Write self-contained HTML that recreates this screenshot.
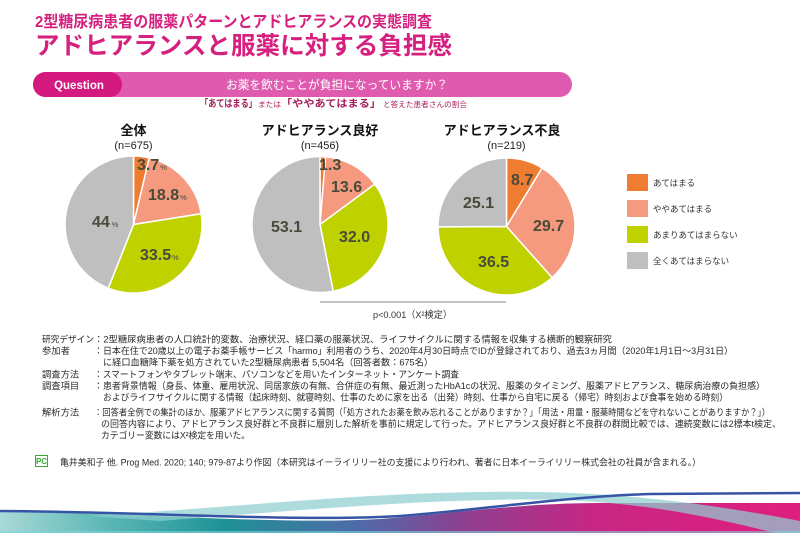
<!DOCTYPE html>
<html lang="ja">
<head>
<meta charset="utf-8">
<style>
  html,body{margin:0;padding:0;background:#fff;}
  svg{display:block;}
  text{font-family:"Liberation Sans","Noto Sans CJK JP",sans-serif;}
</style>
</head>
<body>
<svg width="800" height="533" viewBox="0 0 800 533" xmlns="http://www.w3.org/2000/svg">
  <defs>
    <linearGradient id="band" x1="0" y1="0" x2="1" y2="0">
      <stop offset="0" stop-color="#A9D9D7"/>
      <stop offset="0.13" stop-color="#5DB8B6"/>
      <stop offset="0.28" stop-color="#1E9296"/>
      <stop offset="0.45" stop-color="#4F6AA8"/>
      <stop offset="0.58" stop-color="#8E3F90"/>
      <stop offset="0.75" stop-color="#C92683"/>
      <stop offset="1" stop-color="#DF1E7F"/>
    </linearGradient>
  </defs>

  <!-- Titles -->
  <text x="35" y="27" font-size="16" font-weight="bold" fill="#D6207F" textLength="397" lengthAdjust="spacingAndGlyphs">2型糖尿病患者の服薬パターンとアドヒアランスの実態調査</text>
  <text x="35" y="54" font-size="24.5" font-weight="bold" fill="#D6207F" textLength="417" lengthAdjust="spacingAndGlyphs">アドヒアランスと服薬に対する負担感</text>

  <!-- Question bar -->
  <rect x="33" y="72" width="539" height="25" rx="12.5" fill="#DE5BAF"/>
  <rect x="33" y="72" width="89" height="25" rx="12.5" fill="#D4197F"/>
  <text x="79" y="89" font-size="11.5" font-weight="bold" fill="#fff" text-anchor="middle">Question</text>
  <text x="226" y="89" font-size="12" fill="#fff" textLength="222" lengthAdjust="spacingAndGlyphs">お薬を飲むことが負担になっていますか？</text>

  <!-- Sub caption -->
  <text x="200" y="107" font-size="10" font-weight="bold" fill="#A51E5A" textLength="57" lengthAdjust="spacingAndGlyphs">「あてはまる」</text>
  <text x="258" y="107" font-size="7.5" fill="#A51E5A" textLength="23" lengthAdjust="spacingAndGlyphs">または</text>
  <text x="281" y="107" font-size="10" font-weight="bold" fill="#A51E5A" textLength="100" lengthAdjust="spacingAndGlyphs">「ややあてはまる」</text>
  <text x="383" y="107" font-size="7.5" fill="#A51E5A" textLength="84" lengthAdjust="spacingAndGlyphs">と答えた患者さんの割合</text>

  <!-- Pie titles -->
  <text x="133.5" y="135" font-size="13" font-weight="bold" fill="#111" text-anchor="middle">全体</text>
  <text x="133.5" y="149" font-size="11" fill="#222" text-anchor="middle">(n=675)</text>
  <text x="320" y="135" font-size="13" font-weight="bold" fill="#111" text-anchor="middle">アドヒアランス良好</text>
  <text x="320" y="149" font-size="11" fill="#222" text-anchor="middle">(n=456)</text>
  <text x="502" y="135" font-size="13" font-weight="bold" fill="#111" text-anchor="middle">アドヒアランス不良</text>
  <text x="554" y="129" font-size="6" fill="#888">※</text>
  <text x="506.5" y="149" font-size="11" fill="#222" text-anchor="middle">(n=219)</text>

  <!-- Pie 1 -->
  <g stroke="#fff" stroke-width="1.5" stroke-linejoin="round">
    <path d="M133.5,224.5 L133.5,156 A68.5,68.5 0 0 1 149.28,157.84 Z" fill="#EE7D31"/>
    <path d="M133.5,224.5 L149.28,157.84 A68.5,68.5 0 0 1 201.16,213.78 Z" fill="#F59A7E"/>
    <path d="M133.5,224.5 L201.16,213.78 A68.5,68.5 0 0 1 108.28,288.19 Z" fill="#BFD200"/>
    <path d="M133.5,224.5 L108.28,288.19 A68.5,68.5 0 0 1 133.5,156 Z" fill="#BFBFBF"/>
  </g>
  <!-- Pie 2 -->
  <g stroke="#fff" stroke-width="1.5" stroke-linejoin="round">
    <path d="M320,224.5 L320,156.5 A68,68 0 0 1 325.55,156.72 Z" fill="#EE7D31"/>
    <path d="M320,224.5 L325.55,156.72 A68,68 0 0 1 374.75,184.18 Z" fill="#F59A7E"/>
    <path d="M320,224.5 L374.75,184.18 A68,68 0 0 1 333.16,291.21 Z" fill="#BFD200"/>
    <path d="M320,224.5 L333.16,291.21 A68,68 0 1 1 320,156.5 Z" fill="#BFBFBF"/>
  </g>
  <!-- Pie 3 -->
  <g stroke="#fff" stroke-width="1.5" stroke-linejoin="round">
    <path d="M506.5,226.5 L506.5,158 A68.5,68.5 0 0 1 542.11,167.98 Z" fill="#EE7D31"/>
    <path d="M506.5,226.5 L542.11,167.98 A68.5,68.5 0 0 1 552.11,277.61 Z" fill="#F59A7E"/>
    <path d="M506.5,226.5 L552.11,277.61 A68.5,68.5 0 0 1 438.0,226.93 Z" fill="#BFD200"/>
    <path d="M506.5,226.5 L438.0,226.93 A68.5,68.5 0 0 1 506.5,158 Z" fill="#BFBFBF"/>
  </g>

  <!-- Pie labels -->
  <g font-size="16" font-weight="bold" fill="#4A4A3A">
    <text x="137" y="170">3.7<tspan font-size="7.5" font-weight="normal" dx="1">%</tspan></text>
    <text x="148" y="200">18.8<tspan font-size="7.5" font-weight="normal" dx="1">%</tspan></text>
    <text x="92" y="227">44<tspan font-size="7.5" font-weight="normal" dx="2">%</tspan></text>
    <text x="140" y="260">33.5<tspan font-size="7.5" font-weight="normal" dx="1">%</tspan></text>

    <text x="319" y="170">1.3</text>
    <text x="331" y="192">13.6</text>
    <text x="271" y="232">53.1</text>
    <text x="339" y="242">32.0</text>

    <text x="511" y="185">8.7</text>
    <text x="463" y="208">25.1</text>
    <text x="533" y="231">29.7</text>
    <text x="478" y="267">36.5</text>
  </g>

  <!-- Legend -->
  <rect x="627" y="174" width="21" height="17" fill="#EE7D31"/>
  <rect x="627" y="200" width="21" height="17" fill="#F59A7E"/>
  <rect x="627" y="226" width="21" height="17" fill="#BFD200"/>
  <rect x="627" y="252" width="21" height="17" fill="#BFBFBF"/>
  <g font-size="8.5" fill="#333">
    <text x="653" y="186">あてはまる</text>
    <text x="653" y="212">ややあてはまる</text>
    <text x="653" y="238">あまりあてはまらない</text>
    <text x="653" y="264">全くあてはまらない</text>
  </g>

  <!-- p value -->
  <line x1="320" y1="302" x2="506" y2="302" stroke="#8A8A8A" stroke-width="1"/>
  <text x="373" y="318" font-size="9.5" fill="#333" textLength="79" lengthAdjust="spacingAndGlyphs">p&lt;0.001（X²検定）</text>

  <!-- Methods -->
  <g font-size="9.3" fill="#2a2a2a">
    <text x="42" y="342.5" textLength="52" lengthAdjust="spacingAndGlyphs">研究デザイン</text>
    <text x="94" y="342.5" textLength="518" lengthAdjust="spacingAndGlyphs">：2型糖尿病患者の人口統計的変数、治療状況、経口薬の服薬状況、ライフサイクルに関する情報を収集する横断的観察研究</text>

    <text x="42" y="354.1">参加者</text>
    <text x="94" y="354.1" textLength="639" lengthAdjust="spacingAndGlyphs">：日本在住で20歳以上の電子お薬手帳サービス「harmo」利用者のうち、2020年4月30日時点でIDが登録されており、過去3ヵ月間（2020年1月1日〜3月31日）</text>
    <text x="103" y="365.7" textLength="330" lengthAdjust="spacingAndGlyphs">に経口血糖降下薬を処方されていた2型糖尿病患者 5,504名（回答者数：675名）</text>

    <text x="42" y="377.3">調査方法</text>
    <text x="94" y="377.3" textLength="365" lengthAdjust="spacingAndGlyphs">：スマートフォンやタブレット端末、パソコンなどを用いたインターネット・アンケート調査</text>

    <text x="42" y="388.9">調査項目</text>
    <text x="94" y="388.9" textLength="671" lengthAdjust="spacingAndGlyphs">：患者背景情報（身長、体重、雇用状況、同居家族の有無、合併症の有無、最近測ったHbA1cの状況、服薬のタイミング、服薬アドヒアランス、糖尿病治療の負担感）</text>
    <text x="103" y="400.5" textLength="625" lengthAdjust="spacingAndGlyphs">およびライフサイクルに関する情報（起床時刻、就寝時刻、仕事のために家を出る（出発）時刻、仕事から自宅に戻る（帰宅）時刻および食事を始める時刻）</text>

    <text x="42" y="415.5">解析方法</text>
    <text x="94" y="415.5" textLength="676" lengthAdjust="spacingAndGlyphs">：回答者全例での集計のほか、服薬アドヒアランスに関する質問（「処方されたお薬を飲み忘れることがありますか？」「用法・用量・服薬時間などを守れないことがありますか？」）</text>
    <text x="101" y="427.1" textLength="680" lengthAdjust="spacingAndGlyphs">の回答内容により、アドヒアランス良好群と不良群に層別した解析を事前に規定して行った。アドヒアランス良好群と不良群の群間比較では、連続変数には2標本t検定、</text>
    <text x="101" y="438.7" textLength="149" lengthAdjust="spacingAndGlyphs">カテゴリー変数にはX²検定を用いた。</text>
  </g>

  <!-- Citation -->
  <rect x="35.5" y="455.5" width="12" height="11" fill="#fff" stroke="#3AAA35" stroke-width="1"/>
  <text x="41.5" y="464" font-size="8" font-weight="bold" fill="#3AAA35" text-anchor="middle">PC</text>
  <text x="60" y="465.5" font-size="9" fill="#2a2a2a" textLength="641" lengthAdjust="spacingAndGlyphs">亀井美和子 他. Prog Med. 2020; 140; 979-87より作図（本研究はイーライリリー社の支援により行われ、著者に日本イーライリリー株式会社の社員が含まれる。）</text>

  <!-- Bottom wave -->
  <path d="M0,512 C150,513 280,525 380,519 C450,514 520,503 600,503 L800,503 L800,533 L0,533 Z" fill="url(#band)"/>
  <path d="M90,516 C250,506 350,494 480,492 C600,490 690,500 800,521 L800,533 L775,533 C700,514 640,503 560,500 C450,497 300,510 160,521 Z" fill="#8FCFD0" fill-opacity="0.72"/>
  <path d="M0,511 C150,512 300,522 400,516 C480,510 560,497 650,494 L800,493" fill="none" stroke="#3554A5" stroke-width="2.5"/>
  <rect x="0" y="531" width="800" height="2" fill="#7FD3E0" fill-opacity="0.6"/>
</svg>
</body>
</html>
